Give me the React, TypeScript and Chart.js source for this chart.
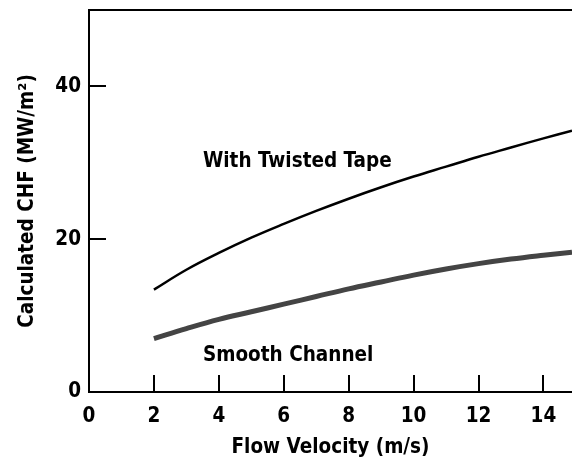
import React, { useEffect, useRef } from "react";
import { Chart, registerables } from "chart.js";

Chart.register(...registerables);

const velocities = [2, 3, 4, 5, 6, 7, 8, 9, 10, 11, 12, 13, 14, 14.88];
const twistedTape = [13.4, 16.0, 18.2, 20.2, 22.0, 23.7, 25.3, 26.8, 28.2, 29.5, 30.8, 32.0, 33.2, 34.2];
const smoothChannel = [7.0, 8.3, 9.5, 10.5, 11.5, 12.5, 13.5, 14.4, 15.3, 16.1, 16.8, 17.4, 17.9, 18.3];

const xTickStep = 2;
const yTickStep = 20;
const xMax = 14.88;
const yMax = 50;

const annotationTexts = ["With Twisted Tape", "Smooth Channel"];
const annotationX = [3.51, 3.51];
const annotationY = [29.45, 4.1];

const FONT = "'Liberation Sans Narrow', 'DejaVu Sans Condensed', 'Arial Narrow', sans-serif";
const FS = 20.5;

const decorPlugin = {
  id: "decor",
  afterDraw(chart: any) {
    const { ctx, chartArea, scales } = chart;
    ctx.save();
    ctx.strokeStyle = "#000";
    ctx.lineWidth = 2;
    // top frame line
    ctx.beginPath();
    ctx.moveTo(chartArea.left - 1, chartArea.top);
    ctx.lineTo(chartArea.right, chartArea.top);
    ctx.stroke();
    // inward ticks
    const tickLen = 17;
    scales.x.ticks.forEach((t: any) => {
      if (t.value <= 0) return;
      const px = Math.round(scales.x.getPixelForValue(t.value));
      ctx.beginPath();
      ctx.moveTo(px, chartArea.bottom);
      ctx.lineTo(px, chartArea.bottom - tickLen);
      ctx.stroke();
    });
    scales.y.ticks.forEach((t: any) => {
      if (t.value <= 0) return;
      const py = Math.round(scales.y.getPixelForValue(t.value));
      ctx.beginPath();
      ctx.moveTo(chartArea.left, py);
      ctx.lineTo(chartArea.left + tickLen, py);
      ctx.stroke();
    });
    // annotations
    ctx.fillStyle = "#000";
    ctx.font = `bold ${FS}px ${FONT}`;
    ctx.textAlign = "left";
    ctx.textBaseline = "alphabetic";
    annotationTexts.forEach((txt, i) => {
      ctx.fillText(
        txt,
        scales.x.getPixelForValue(annotationX[i]),
        scales.y.getPixelForValue(annotationY[i])
      );
    });
    ctx.restore();
  },
};

export default function App() {
  const canvasRef = useRef<HTMLCanvasElement | null>(null);

  useEffect(() => {
    if (!canvasRef.current) return;
    Chart.defaults.font.family = FONT;
    const chart = new Chart(canvasRef.current, {
      type: "line",
      data: {
        datasets: [
          {
            label: "With Twisted Tape",
            data: velocities.map((v, i) => ({ x: v, y: twistedTape[i] })),
            borderColor: "#000",
            borderWidth: 2.5,
            pointRadius: 0,
            tension: 0.4,
            fill: false,
          },
          {
            label: "Smooth Channel",
            data: velocities.map((v, i) => ({ x: v, y: smoothChannel[i] })),
            borderColor: "#444",
            borderWidth: 5,
            pointRadius: 0,
            tension: 0.4,
            fill: false,
          },
        ],
      },
      options: {
        animation: false,
        responsive: false,
        layout: { padding: { top: 10, right: 0, left: 0, bottom: 0 } },
        plugins: {
          legend: { display: false },
          tooltip: { enabled: false },
        },
        scales: {
          x: {
            type: "linear",
            min: 0,
            max: xMax,
            afterFit: (s: any) => {
              s.height = 72;
              s.paddingLeft = 0;
              s.paddingRight = 0;
            },
            grid: { display: false, drawTicks: false },
            border: { display: true, color: "#000", width: 2 },
            ticks: {
              stepSize: xTickStep,
              includeBounds: false,
              autoSkip: false,
              maxRotation: 0,
              color: "#000",
              padding: 12,
              font: { size: FS, weight: "bold", family: FONT },
            },
            title: {
              display: true,
              text: "Flow Velocity (m/s)",
              color: "#000",
              padding: { top: 0, bottom: 4 },
              font: { size: FS, weight: "bold", family: FONT },
            },
          },
          y: {
            type: "linear",
            min: 0,
            max: yMax,
            afterFit: (s: any) => {
              s.width = 89;
              s.paddingTop = 0;
              s.paddingBottom = 0;
            },
            grid: { display: false, drawTicks: false },
            border: { display: true, color: "#000", width: 2 },
            ticks: {
              stepSize: yTickStep,
              includeBounds: false,
              color: "#000",
              padding: 8,
              font: { size: FS, weight: "bold", family: FONT },
            },
            title: {
              display: true,
              text: "Calculated CHF (MW/m²)",
              color: "#000",
              padding: { top: 15, bottom: 0 },
              font: { size: FS, weight: "bold", family: FONT },
            },
          },
        },
      },
      plugins: [decorPlugin],
    } as any);
    return () => chart.destroy();
  }, []);

  return (
    <div style={{ position: "fixed", left: 0, top: 0, width: 572, height: 464, background: "#fff" }}>
      <canvas ref={canvasRef} width={572} height={464} style={{ display: "block" }} />
    </div>
  );
}
